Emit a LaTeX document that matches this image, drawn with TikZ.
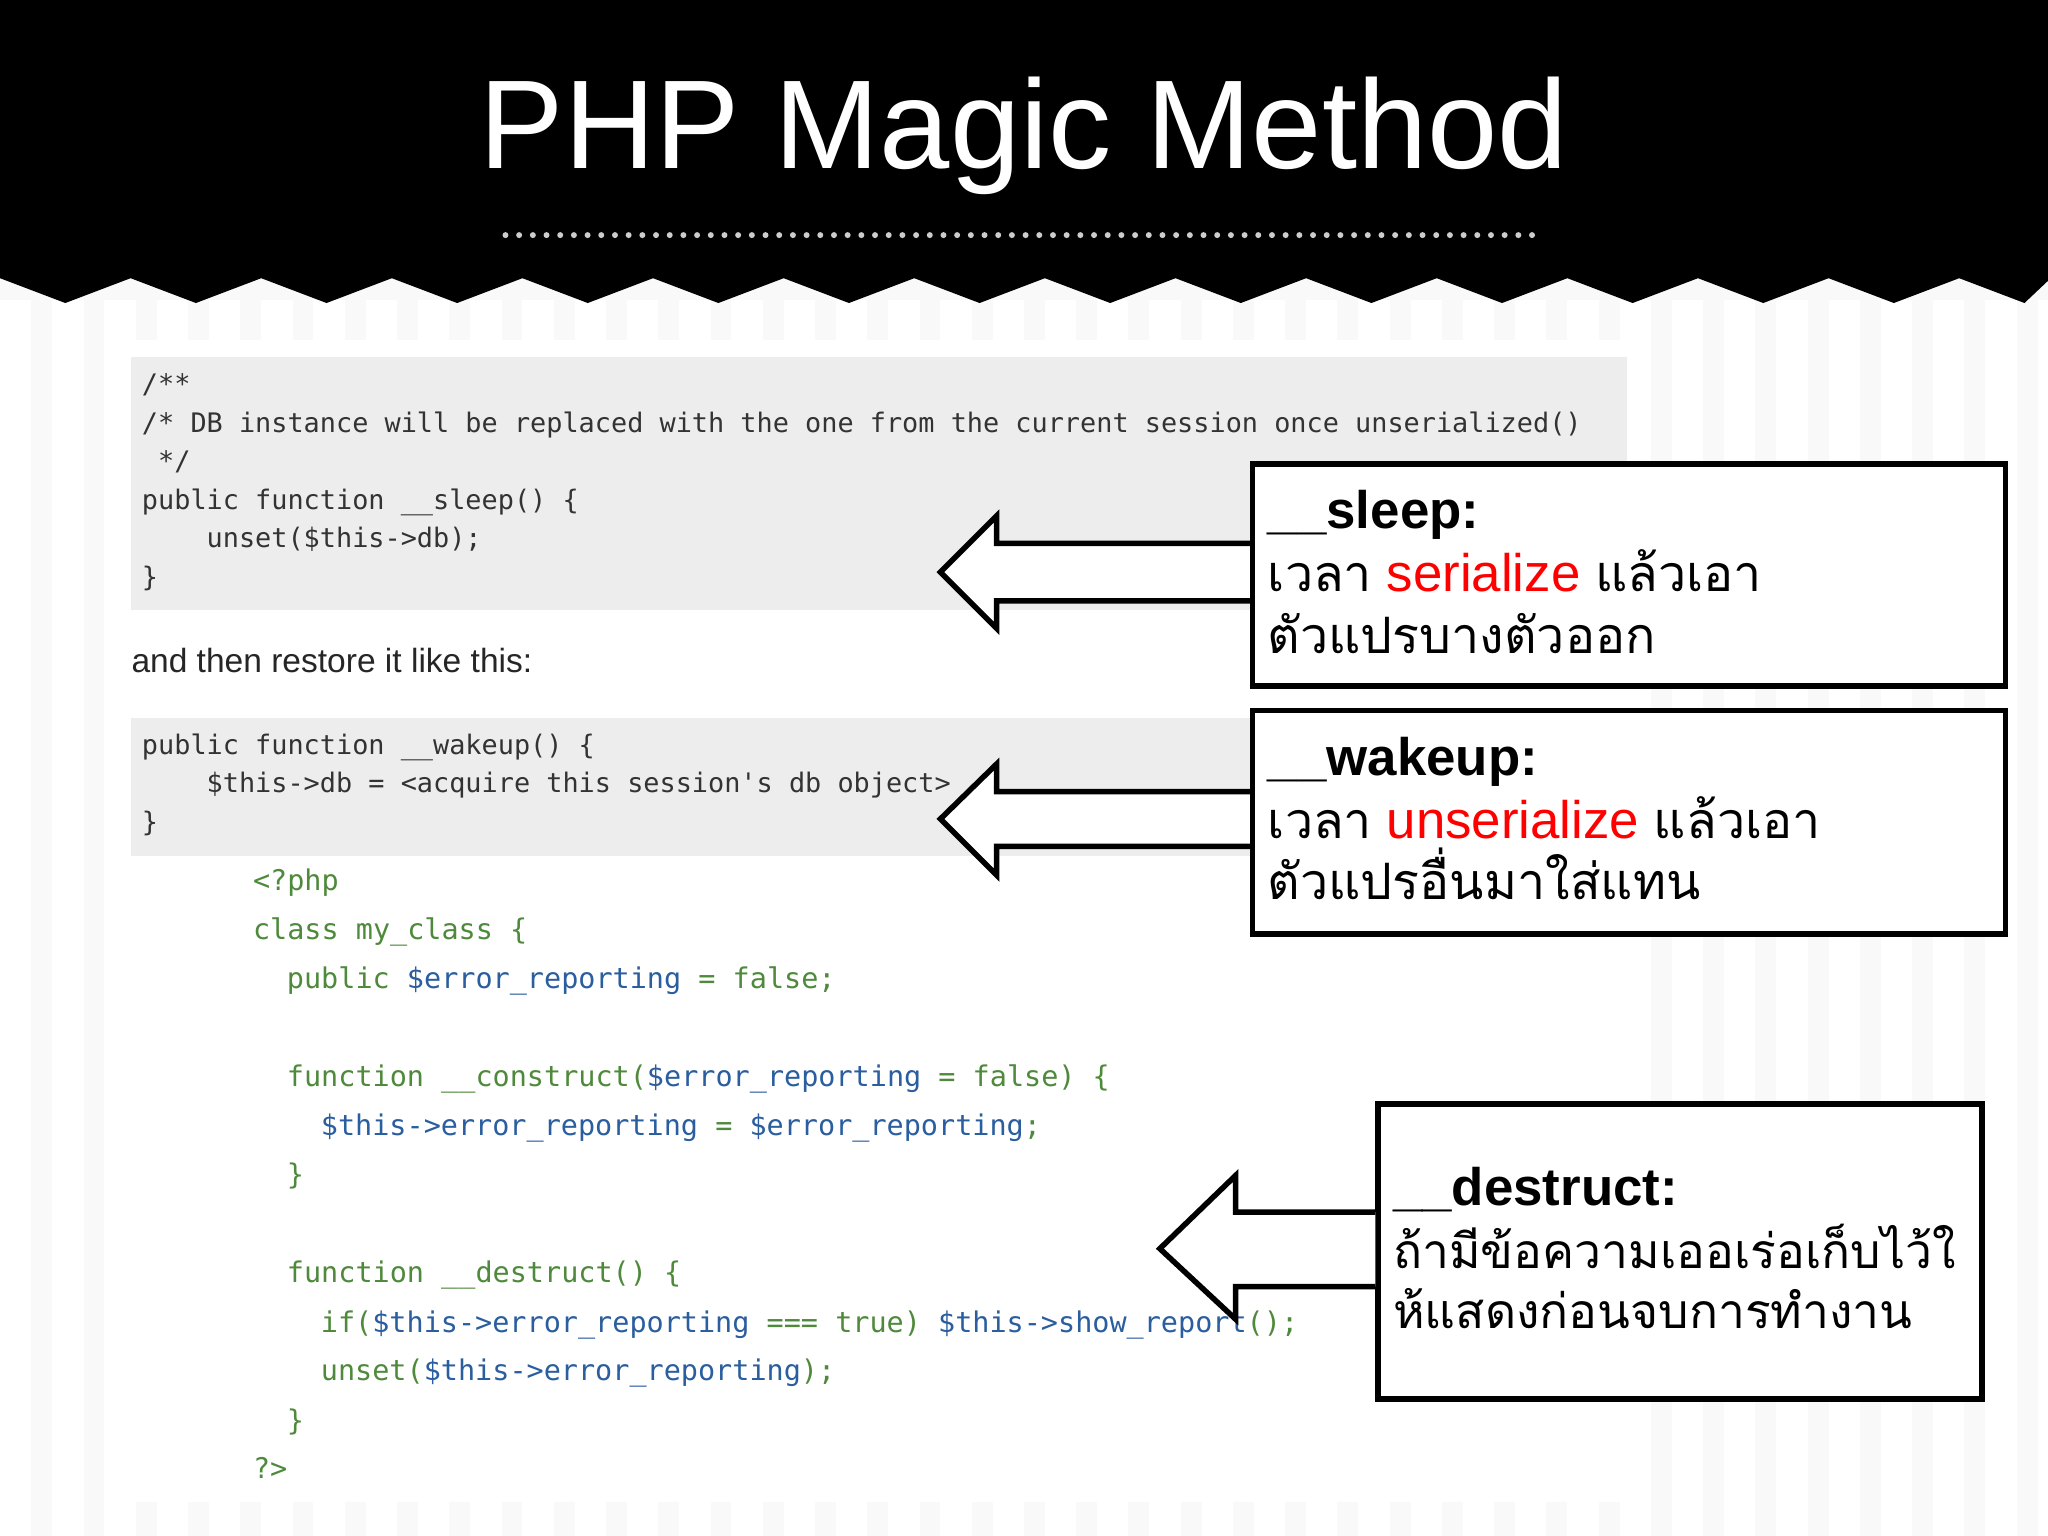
\documentclass[tikz,border=0pt]{standalone}
\usepackage{fontspec}
\setmainfont{Liberation Sans}
\setmonofont{DejaVu Sans Mono}
\newfontfamily\thaif[Script=Thai,Scale=0.95]{Loma}
\begin{document}
\begin{tikzpicture}[x=0.01cm,y=-0.01cm,
  code/.style={anchor=base west,inner sep=0,font=\ttfamily\fontsize{5.85}{7}\selectfont,text=black!80},
  pcode/.style={anchor=base west,inner sep=0,font=\ttfamily\fontsize{6.2}{7}\selectfont,text=kw},
  box/.style={draw=black,line width=1.2pt,fill=white},
  arr/.style={draw=black,line width=1.2pt,fill=white,line join=miter},
  head/.style={anchor=base west,inner sep=0,font=\bfseries\fontsize{11.5}{14}\selectfont},
  body/.style={anchor=base west,inner sep=0,font=\fontsize{11.5}{14}\selectfont}]
\definecolor{kw}{HTML}{4F8A3C}
\definecolor{vr}{HTML}{2A5E9E}
\useasboundingbox (0,0) rectangle (1568,1176);
\fill[gray!5] (0,0) rectangle (1568,1176);
\foreach \x in {0,40,...,1560}{\fill[white] (\x,230) rectangle (\x+24,1176);}
\fill[white] (80,260) rectangle (1262,1150);
% black header with zigzag
\fill[black] (0,0) -- (1568,0) -- (1568,215)
  \foreach \i in {15,...,0}{ -- (\i*100+50,232) -- (\i*100,213)} -- cycle;
\node[inner sep=0,text=white,font=\fontsize{27.5}{32}\selectfont] (title) at (784,104) {PHP Magic Method};
\draw[white!80!black,line width=1.3pt,dash pattern=on 0pt off 2.98pt,line cap=round] (387,180) -- (1175,180);
% grey code blocks
\fill[gray!14] (100,273) rectangle (1246,467);
\fill[gray!14] (100,550) rectangle (960,655);
\node[code] (c1) at (108,301) {/**};
\node[code] (c2) at (108,331) {/* DB instance will be replaced with the one from the current session once unserialized()};
\node[code] (c3) at (108,360) {\ */};
\node[code] (c4) at (108,390) {public function \_\_sleep() \{};
\node[code] (c5) at (108,419) {\ \ \ \ unset(\$this->db);};
\node[code] (c6) at (108,449) {\}};
\node[anchor=base west,inner sep=0,font=\fontsize{7.3}{9}\selectfont,text=black!85] (mid) at (100,515) {and then restore it like this:};
\node[code] (d1) at (108,578) {public function \_\_wakeup() \{};
\node[code] (d2) at (108,607) {\ \ \ \ \$this->db = <acquire this session's db object>};
\node[code] (d3) at (108,637) {\}};
% php code
\node[pcode] (p1) at (193,682) {<?php};
\node[pcode] (p2) at (193,719) {class my\_class \{};
\node[pcode] (p3) at (219,757) {public \textcolor{vr}{\$error\_reporting} = false;};
\node[pcode] (p4) at (219,832) {function \_\_construct(\textcolor{vr}{\$error\_reporting} = false) \{};
\node[pcode] (p5) at (245,869) {\textcolor{vr}{\$this->error\_reporting} = \textcolor{vr}{\$error\_reporting};};
\node[pcode] (p6) at (219,907) {\}};
\node[pcode] (p7) at (219,982) {function \_\_destruct() \{};
\node[pcode] (p8) at (245,1020) {if(\textcolor{vr}{\$this->error\_reporting} === true) \textcolor{vr}{\$this->show\_report}();};
\node[pcode] (p9) at (245,1057) {unset(\textcolor{vr}{\$this->error\_reporting});};
\node[pcode] (p10) at (219,1095) {\}};
\node[pcode] (p11) at (193,1132) {?>};
% boxes
\node[box,minimum width=5.76cm,minimum height=1.70cm,anchor=north west,inner sep=0] (b1) at (957,353) {};
\node[box,minimum width=5.76cm,minimum height=1.71cm,anchor=north west,inner sep=0] (b2) at (957,542) {};
\node[box,minimum width=4.62cm,minimum height=2.26cm,anchor=north west,inner sep=0] (b3) at (1053,843) {};
% arrows
\draw[arr] (b1.west|-0,416) -- (763,416) -- (763,395) -- (720,438) -- (763,481) -- (763,460) -- (b1.west|-0,460);
\draw[arr] (b2.west|-0,606) -- (763,606) -- (763,585) -- (720,627) -- (763,670) -- (763,648) -- (b2.west|-0,648);
\draw[arr] (b3.west|-0,928) -- (946,928) -- (946,900) -- (888,956) -- (946,1010) -- (946,985) -- (b3.west|-0,985);
% box texts
\node[head] (t1) at (970,405) {\_\_sleep:};
\node[body] (t1a) at (970,453) {{\thaif เวลา} \textcolor{red}{serialize} {\thaif แล้วเอา}};
\node[body] (t1b) at (970,500) {\thaif ตัวแปรบางตัวออก};
\node[head] (t2) at (970,594) {\_\_wakeup:};
\node[body] (t2a) at (970,642) {{\thaif เวลา} \textcolor{red}{unserialize} {\thaif แล้วเอา}};
\node[body] (t2b) at (970,689) {\thaif ตัวแปรอื่นมาใส่แทน};
\node[head] (t3) at (1066,923) {\_\_destruct:};
\node[body,font=\fontsize{11}{14}\selectfont] (t3a) at (1066,971) {\thaif ถ้ามีข้อความเออเร่อเก็บไว้ใ};
\node[body,font=\fontsize{11}{14}\selectfont] (t3b) at (1066,1017) {\thaif ห้แสดงก่อนจบการทำงาน};
\end{tikzpicture}
\end{document}
